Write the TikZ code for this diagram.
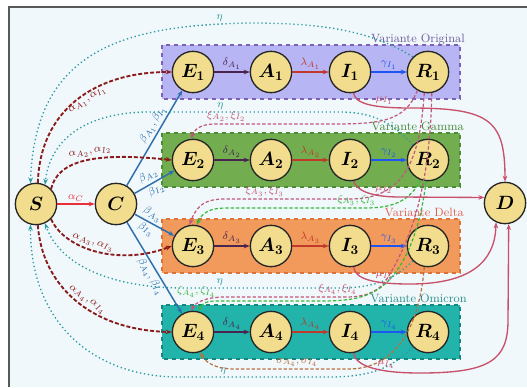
\documentclass[tikz,border=0pt]{standalone}
\usepackage{amsmath}
\usepackage{amssymb}
\usetikzlibrary{arrows.meta}

\definecolor{bgblue}{HTML}{F0F8FB}
\definecolor{compfill}{HTML}{F2DD8E}
\definecolor{origfill}{HTML}{B7B5F3}
\definecolor{origline}{HTML}{7D5FB5}
\definecolor{origtext}{HTML}{6A5C9E}
\definecolor{gamfill}{HTML}{72AE50}
\definecolor{gamline}{HTML}{4C8C33}
\definecolor{gamtext}{HTML}{4A8A3C}
\definecolor{delfill}{HTML}{F29A5C}
\definecolor{delline}{HTML}{D9733A}
\definecolor{deltext}{HTML}{E0604E}
\definecolor{omifill}{HTML}{22B3AA}
\definecolor{omiline}{HTML}{16857F}
\definecolor{omitext}{HTML}{2A8F8A}
\definecolor{alphared}{HTML}{8B1A1A}
\definecolor{acred}{HTML}{E8303A}
\definecolor{betablue}{HTML}{2F6FAE}
\definecolor{etateal}{HTML}{2A9AA2}
\definecolor{murose}{HTML}{C8506A}
\definecolor{xipink}{HTML}{C0587A}
\definecolor{zetagreen}{HTML}{35B83C}
\definecolor{sigbrown}{HTML}{B8703F}
\definecolor{deltadark}{HTML}{4A2450}
\definecolor{lamred}{HTML}{C0392B}
\definecolor{gamblue}{HTML}{1F55F0}

\begin{document}
\begin{tikzpicture}[x=0.75pt, y=-0.75pt,
                    >={Stealth[length=4.5pt, width=3.5pt]},
                    comp/.style={circle, draw=black!85, line width=1pt, fill=compfill, minimum size=31pt, inner sep=0pt, font=\Large},
                    varbox/.style={dashed, line width=0.8pt},
                    varname/.style={anchor=base east, inner sep=0pt, font=\small},
                    lab/.style={font=\footnotesize, inner sep=1.5pt},
                    flow/.style={->, line width=1.1pt},
                    alphaflow/.style={->, alphared, line width=1.4pt, dash pattern=on 3pt off 1.5pt},
                    etaflow/.style={->, etateal, line width=1pt, dotted},
                    reinf/.style={->, line width=0.9pt, dash pattern=on 2.5pt off 1.5pt},
                    muflow/.style={->, murose, line width=1pt}
                ]
                \useasboundingbox (0,0) rectangle (527,387);
                \fill[white] (0,0) rectangle (527,387);
                \fill[bgblue] (9,7) rectangle (527,387);
                \draw[black!65, line width=1.2pt] (9,387) -- (9,7) -- (527,7);

                % variant boxes
                \filldraw[varbox, draw=origline, fill=origfill] (162,45) rectangle (460,99);
                \filldraw[varbox, draw=gamline, fill=gamfill] (162,133) rectangle (460,187);
                \filldraw[varbox, draw=delline, fill=delfill] (162,219) rectangle (460,273);
                \filldraw[varbox, draw=omiline, fill=omifill] (162,305) rectangle (460,359);
                \node[varname, origtext] (nOrig) at (465,42) {Variante Original};
                \node[varname, gamtext] (nGam) at (464,130) {Variante Gamma};
                \node[varname, deltext] (nDel) at (464,216) {Variante Delta};
                \node[varname, omitext] (nOmi) at (467,302) {Variante Omicron};

                % compartments
                \node[comp] (S) at (36,204) {$\boldsymbol{S}$};
                \node[comp] (C) at (116,204) {$\boldsymbol{C}$};
                \node[comp] (D) at (505,203) {$\boldsymbol{D}$};
                \node[comp] (E1) at (193,72) {$\boldsymbol{E_1}$};
                \node[comp] (A1) at (271,72) {$\boldsymbol{A_1}$};
                \node[comp] (I1) at (350,72) {$\boldsymbol{I_1}$};
                \node[comp] (R1) at (428,72) {$\boldsymbol{R_1}$};
                \node[comp] (E2) at (193,160) {$\boldsymbol{E_2}$};
                \node[comp] (A2) at (271,160) {$\boldsymbol{A_2}$};
                \node[comp] (I2) at (350,160) {$\boldsymbol{I_2}$};
                \node[comp] (R2) at (428,160) {$\boldsymbol{R_2}$};
                \node[comp] (E3) at (193,246) {$\boldsymbol{E_3}$};
                \node[comp] (A3) at (271,246) {$\boldsymbol{A_3}$};
                \node[comp] (I3) at (350,246) {$\boldsymbol{I_3}$};
                \node[comp] (R3) at (428,246) {$\boldsymbol{R_3}$};
                \node[comp] (E4) at (193,332) {$\boldsymbol{E_4}$};
                \node[comp] (A4) at (271,332) {$\boldsymbol{A_4}$};
                \node[comp] (I4) at (350,332) {$\boldsymbol{I_4}$};
                \node[comp] (R4) at (428,332) {$\boldsymbol{R_4}$};

                % flows inside the variants
                \draw[flow, deltadark] (E1) -- node[lab, above] {$\delta_{A_1}$} (A1);
                \draw[flow, lamred] (A1) -- node[lab, above] {$\lambda_{A_1}$} (I1);
                \draw[flow, gamblue] (I1) -- node[lab, above] {$\gamma_{I_1}$} (R1);
                \draw[flow, deltadark] (E2) -- node[lab, above] {$\delta_{A_2}$} (A2);
                \draw[flow, lamred] (A2) -- node[lab, above] {$\lambda_{A_2}$} (I2);
                \draw[flow, gamblue] (I2) -- node[lab, above] {$\gamma_{I_2}$} (R2);
                \draw[flow, deltadark] (E3) -- node[lab, above] {$\delta_{A_3}$} (A3);
                \draw[flow, lamred] (A3) -- node[lab, above] {$\lambda_{A_3}$} (I3);
                \draw[flow, gamblue] (I3) -- node[lab, above] {$\gamma_{I_3}$} (R3);
                \draw[flow, deltadark] (E4) -- node[lab, above] {$\delta_{A_4}$} (A4);
                \draw[flow, lamred] (A4) -- node[lab, above] {$\lambda_{A_4}$} (I4);
                \draw[flow, gamblue] (I4) -- node[lab, above] {$\gamma_{I_4}$} (R4);

                % S and C
                \draw[flow, acred, line width=1.3pt] (S) -- node[lab, above] {$\alpha_C$} (C);
                \draw[flow, betablue] (C) -- node[lab, sloped, above, pos=0.6] {$\beta_{A_1}, \beta_{I_1}$} (E1);
                \draw[flow, betablue] (C) -- node[lab, sloped, above, pos=0.45] {$\beta_{A_2}$} node[lab, sloped, below, pos=0.45] {$\beta_{I_2}$} (E2);
                \draw[flow, betablue] (C) -- node[lab, sloped, above, pos=0.35] {$\beta_{A_3}$} node[lab, sloped, below, pos=0.38] {$\beta_{I_3}$} (E3);
                \draw[flow, betablue] (C) -- node[lab, sloped, below, pos=0.55] {$\beta_{A_4}, \beta_{I_4}$} (E4);
                \draw[alphaflow] (S.85) .. controls (40,110) and (95,72) .. (E1.west) node[lab, sloped, below, pos=0.55] {$\alpha_{A_1}, \alpha_{I_1}$};
                \draw[alphaflow] (S.45) .. controls (58,160) and (95,152) .. (E2.west) node[lab, sloped, above, pos=0.55] {$\alpha_{A_2}, \alpha_{I_2}$};
                \draw[alphaflow] (S.-45) .. controls (65,250) and (120,266) .. (E3.west) node[lab, sloped, above, pos=0.45] {$\alpha_{A_3}, \alpha_{I_3}$};
                \draw[alphaflow] (S.-85) .. controls (42,285) and (90,330) .. (E4.west) node[lab, sloped, above, pos=0.55] {$\alpha_{A_4}, \alpha_{I_4}$};

                % loss of immunity
                \draw[etaflow] (R1.135) .. controls (370,30) and (320,23) .. (250,23) .. controls (120,25) and (35,52) .. (S.105) node[lab, above, pos=0.08] {$\eta$};
                \draw[etaflow] (R2.135) .. controls (395,125) and (375,112) .. (340,112) -- (150,112) node[lab, above, pos=0.63] {$\eta$} .. controls (85,112) and (50,140) .. (S.65);
                \draw[etaflow] (R3.225) .. controls (400,272) and (385,288) .. (340,288) -- (180,288) node[lab, above, pos=0.75] {$\eta$} .. controls (110,287) and (60,265) .. (S.-65);
                \draw[etaflow] (R4.225) .. controls (395,365) and (375,377) .. (330,377) -- (175,377) node[lab, above, pos=0.69] {$\eta$} .. controls (90,375) and (30,320) .. (S.-105);

                % reinfection by another variant
                \draw[reinf, xipink] (R1.240) .. controls (405,122) and (380,124) .. (330,124) -- (215,124) node[lab, above, pos=0.9] {$\xi_{A_2}, \xi_{I_2}$} .. controls (200,124) and (194,130) .. (E2.95);
                \draw[reinf, xipink] (R1.260) .. controls (420,150) and (410,199) .. (350,199) -- (225,199) node[lab, above, pos=0.68] {$\xi_{A_3}, \xi_{I_3}$} .. controls (205,199) and (197,205) .. (E3.100);
                \draw[reinf, zetagreen] (R2.250) .. controls (410,200) and (395,208) .. (365,208) -- (225,208) node[lab, above, pos=0.06] {$\zeta_{A_3}, \zeta_{I_3}$} .. controls (210,208) and (202,213) .. (E3.80);
                \draw[reinf, xipink] (R1.280) .. controls (430,200) and (405,250) .. (385,282) .. controls (375,294) and (362,297) .. (345,297) -- (225,297) node[lab, above, pos=0.06] {$\xi_{A_4}, \xi_{I_4}$} .. controls (205,297) and (195,303) .. (E4.95);
                \draw[reinf, zetagreen] (R2.265) .. controls (420,230) and (405,270) .. (380,288) .. controls (365,298) and (350,301) .. (320,301) -- (215,301) node[lab, above=1pt, xshift=-14pt] {$\zeta_{A_4}, \zeta_{I_4}$} .. controls (205,301) and (201,305) .. (E4.75);
                \draw[reinf, sigbrown] (R3.260) .. controls (420,320) and (400,368) .. (350,369) -- (235,369) node[lab, above, pos=0.46] {$\sigma_{A_4}, \sigma_{I_4}$} .. controls (215,369) and (205,362) .. (E4.-70);

                % deaths
                \draw[muflow] (I1.-80) .. controls (355,103) and (370,108) .. (410,108) node[lab, above, pos=0.75] {$\mu_{I_1}$} .. controls (490,108) and (505,120) .. (D.north);
                \draw[muflow] (I2.-80) .. controls (356,190) and (370,197) .. (400,197) node[lab, above, pos=0.8] {$\mu_{I_2}$} -- (D.165);
                \draw[muflow] (I3.-80) .. controls (355,278) and (370,284) .. (410,284) node[lab, above, pos=0.75] {$\mu_{I_3}$} .. controls (470,284) and (495,262) .. (D.-115);
                \draw[muflow] (I4.-80) .. controls (355,365) and (375,373) .. (420,373) node[lab, above, pos=0.7] {$\mu_{I_4}$} .. controls (490,373) and (508,360) .. (508,320) -- (D.-80);
\end{tikzpicture}
\end{document}
